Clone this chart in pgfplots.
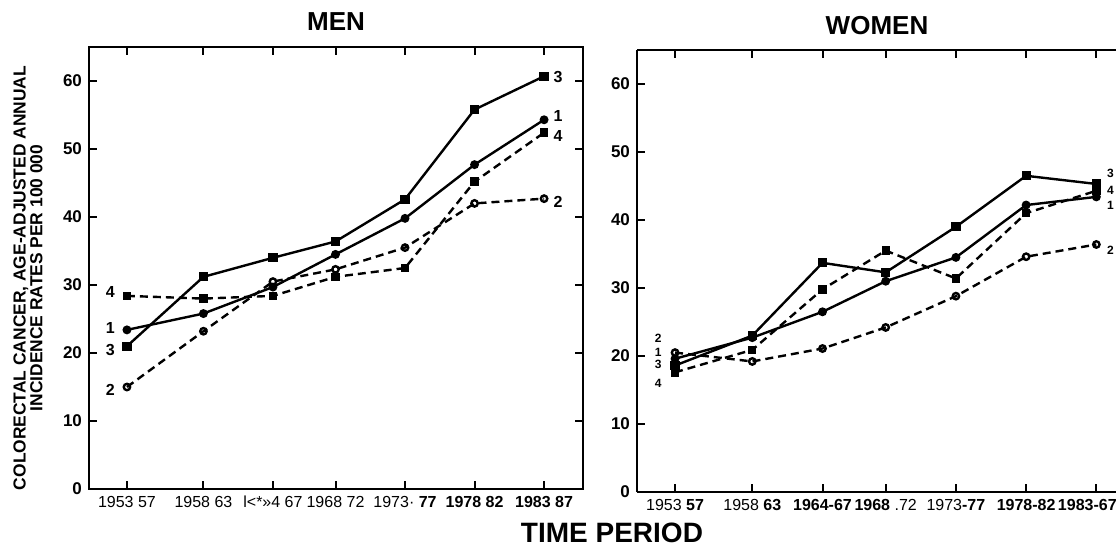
\documentclass[border=0pt]{standalone}
\usepackage{fontspec}
\setmainfont{Liberation Sans}
\usepackage{pgfplots}
\usepackage{pgfplotstable}
\pgfplotsset{compat=1.18}

% incidence per 100 000, series 1-4, by period midpoint
\pgfplotstableread{
x      s1    s2    s3    s4
1955   23.4  15.0  21.0  28.4
1960.5 25.8  23.2  31.2  28.0
1965.5 29.7  30.5  34.0  28.4
1970   34.5  32.3  36.4  31.2
1975   39.8  35.5  42.6  32.5
1980   47.7  42.0  55.8  45.2
1985   54.3  42.7  60.7  52.4
}\men
\pgfplotstableread{
x      s1    s2    s3    s4
1955   19.6  20.5  18.6  17.6
1960.5 22.7  19.2  23.0  20.9
1965.5 26.5  21.1  33.7  29.8
1970   31.0  24.2  32.3  35.5
1975   34.5  28.8  39.0  31.4
1980   42.2  34.6  46.5  41.0
1985   43.4  36.4  45.3  44.3
}\women

\pgfplotsset{
  panel/.style={
    scale only axis, height=221pt, anchor=south west,
    ymin=0, ymax=65, ytick={0,10,...,60}, yticklabels={0,10,20,30,40,50,60},
    xtick={1955,1960.5,1965.5,1970,1975,1980,1985},
    tick align=inside, major tick length=4pt,
    axis line style={line width=1.3pt},
    every tick/.style={black, line width=1pt},
    yticklabel style={font=\bfseries\fontsize{8.5}{9}\selectfont},
    xticklabel style={font=\fontsize{8}{9}\selectfont},
    clip=false,
  },
  s1/.style={black, line width=1.2pt, mark=*, mark size=1.6pt},
  s2/.style={black, line width=1.2pt, dash pattern=on 4pt off 2.5pt,
    mark=o, mark size=1.6pt, mark options={solid, fill=white}},
  s3/.style={black, line width=1.2pt, mark=square*, mark size=1.7pt},
  s4/.style={black, line width=1.2pt, dash pattern=on 4pt off 2.5pt,
    mark=square*, mark size=1.5pt, mark options={solid}},
}
\tikzset{
  lab/.style={font=\bfseries\fontsize{8}{9}\selectfont, inner sep=0pt},
  slab/.style={font=\bfseries\fontsize{6}{7}\selectfont, inner sep=0pt},
}

\begin{document}
\begin{tikzpicture}
\begin{axis}[panel, at={(0pt,0pt)}, width=247pt,
  xmin=1952.27, xmax=1987.8,
  xticklabels={1953 57, 1958 63, l<*»4 67, 1968 72, 1973· \textbf{77},
    \textbf{1978 82}, \textbf{1983 87}}]
  \addplot[s1] table[x=x, y=s1] {\men};
  \addplot[s2] table[x=x, y=s2] {\men};
  \addplot[s3] table[x=x, y=s3] {\men};
  \addplot[s4] table[x=x, y=s4] {\men};
  \node[lab] at (axis cs:1953.8,29.0) {4};
  \node[lab] at (axis cs:1953.8,23.7) {1};
  \node[lab] at (axis cs:1953.8,20.5) {3};
  \node[lab] at (axis cs:1953.8,14.6) {2};
  \node[lab] at (axis cs:1986,60.6) {3};
  \node[lab] at (axis cs:1986,54.8) {1};
  \node[lab] at (axis cs:1986,51.9) {4};
  \node[lab] at (axis cs:1986,42.2) {2};
\end{axis}

\begin{axis}[panel, at={(274pt,-1.5pt)}, width=239.5pt,
  xmin=1952.29, xmax=1986.4,
  axis x line*=box, axis y line*=left,
  xticklabels={1953 \textbf{57}, 1958 \textbf{63}, \textbf{1964-67},
    \textbf{1968} .72, 1973\textbf{-77}, \textbf{1978-82}, \textbf{1983-67}\kern9pt}]
  \addplot[s1] table[x=x, y=s1] {\women};
  \addplot[s2] table[x=x, y=s2] {\women};
  \addplot[s3] table[x=x, y=s3] {\women};
  \addplot[s4] table[x=x, y=s4] {\women};
  \node[slab] at (axis cs:1953.8,22.6) {2};
  \node[slab] at (axis cs:1953.8,20.6) {1};
  \node[slab] at (axis cs:1953.8,18.7) {3};
  \node[slab] at (axis cs:1953.8,16.0) {4};
  \node[slab] at (axis cs:1986,46.8) {3};
  \node[slab] at (axis cs:1986,44.4) {4};
  \node[slab] at (axis cs:1986,42.1) {1};
  \node[slab] at (axis cs:1986,35.5) {2};
\end{axis}

\node[font=\bfseries\fontsize{13}{14}\selectfont] at (123.5pt,233.5pt) {MEN};
\node[font=\bfseries\fontsize{13}{14}\selectfont] at (394pt,231.5pt) {WOMEN};
\node[font=\bfseries\fontsize{14}{15}\selectfont] at (261.5pt,-22pt) {TIME PERIOD};
\node[rotate=90, align=center, font=\bfseries\fontsize{8.7}{7}\selectfont]
  at (-30.5pt,105.5pt) {COLORECTAL CANCER, AGE-ADJUSTED ANNUAL\\INCIDENCE RATES PER 100 000};

\pgfresetboundingbox
\path[use as bounding box] (-44.5pt,-32pt) rectangle (513.5pt,244.5pt);
\end{tikzpicture}
\end{document}
